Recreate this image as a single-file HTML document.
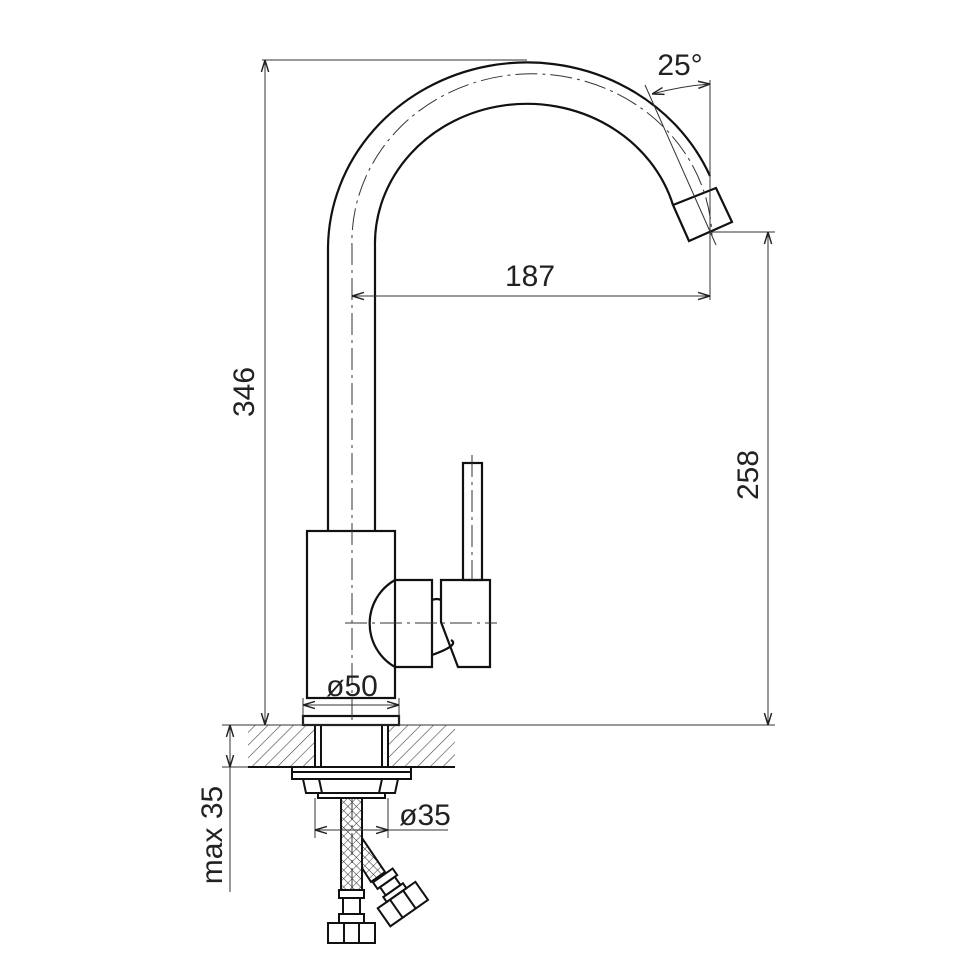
<!DOCTYPE html>
<html><head><meta charset="utf-8"><style>html,body{margin:0;padding:0;background:#fff}svg{display:block}text{font-family:"Liberation Sans",sans-serif;font-size:30px;fill:#222}</style></head>
<body>
<svg width="980" height="980" viewBox="0 0 980 980" xmlns="http://www.w3.org/2000/svg">
<defs>
<pattern id="h" width="9" height="9" patternUnits="userSpaceOnUse" patternTransform="rotate(45)"><line x1="0" y1="0" x2="0" y2="9" stroke="#444" stroke-width="1.2"/></pattern>
<pattern id="m" width="6" height="6" patternUnits="userSpaceOnUse" patternTransform="rotate(45)"><path d="M0 0H6M0 0V6" stroke="#333" stroke-width="1"/></pattern>
<marker id="a" viewBox="0 0 10 10" refX="10" refY="5" markerWidth="12" markerHeight="12" markerUnits="userSpaceOnUse" orient="auto-start-reverse"><path d="M0 2L10 5L0 8" fill="none" stroke="#222" stroke-width="1.2"/></marker>
</defs>
<g fill="none" stroke="#111" stroke-width="2.2">
<!-- spout -->
<path d="M328 530V247A199 187 0 0 1 710 176"/>
<path d="M375 530V247A152 140 0 0 1 673 205"/>
<path d="M673 205L716 188L732 222L689 241Z"/>
<!-- body -->
<rect x="307" y="531" width="88" height="167"/>
<path d="M395 580H432V667H395A50 50 0 0 1 395 580"/>
<path d="M432 600Q437 598 441 600"/>
<path d="M432 655Q460 645 451 640"/>
<path d="M441 580H490V667H458L441 622Z"/>
<rect x="463" y="463" width="19" height="117"/>
<!-- base -->
<rect x="303" y="716" width="96" height="9"/>
</g>
<!-- counter -->
<rect x="248" y="725" width="67" height="42" fill="url(#h)"/>
<rect x="388" y="725" width="67" height="42" fill="url(#h)"/>
<g fill="none" stroke="#111" stroke-width="2">
<path d="M248 767H455"/>
<path d="M315 725V767M388 725V767M321 725V767M382 725V767"/>
<rect x="292" y="767" width="119" height="12"/>
<path d="M292 772H411"/>
<path d="M303 779H398L395 793H306Z"/>
<path d="M319 779L322 793M382 779L379 793"/>
<rect x="318" y="793" width="67" height="5"/>
</g>
<rect x="341" y="798" width="21" height="92" fill="url(#m)" stroke="#111" stroke-width="2"/>
<path d="M362 838L385 872L371 882L362 868Z" fill="url(#m)" stroke="#111" stroke-width="2"/>
<g fill="none" stroke="#111" stroke-width="2">
<rect x="339" y="890" width="25" height="8"/>
<rect x="343" y="898" width="17" height="16"/>
<rect x="339" y="914" width="25" height="9"/>
<rect x="328" y="923" width="47" height="20"/>
<path d="M344 923V943M359 923V943"/>
<g transform="translate(400 900) rotate(-35)">
<rect x="-12" y="-30" width="24" height="8"/>
<rect x="-9" y="-22" width="18" height="10"/>
<rect x="-12" y="-12" width="24" height="6"/>
<rect x="-23" y="-6" width="46" height="22"/>
<path d="M-8 -6V16M8 -6V16"/>
</g>
</g>
<!-- center lines -->
<g fill="none" stroke="#333" stroke-width="1" stroke-dasharray="22 5 3 5">
<path d="M352 720V247A175 163 0 0 1 712 236"/>
<path d="M345 623H497"/>
<path d="M472 455V580"/>
<path d="M352 798V890"/>
</g>
<!-- dimensions -->
<g fill="none" stroke="#333" stroke-width="1">
<path d="M262 60H527"/>
<path d="M265 60V725" marker-start="url(#a)" marker-end="url(#a)"/>
<path d="M248 725H775"/>
<path d="M712 232H775"/>
<path d="M768 232V725" marker-start="url(#a)" marker-end="url(#a)"/>
<path d="M710 80V300"/>
<path d="M352 296H710" marker-start="url(#a)" marker-end="url(#a)"/>
<path d="M645 85L716 245"/>
<path d="M652 94Q682 86 710 84" marker-start="url(#a)" marker-end="url(#a)"/>
<path d="M303 698V725M399 698V725"/>
<path d="M303 705H399" marker-start="url(#a)" marker-end="url(#a)"/>
<path d="M352 705V720"/>
<path d="M315 798V838M388 798V838"/>
<path d="M315 830H448"/>
<path d="M315 830H388" marker-start="url(#a)" marker-end="url(#a)"/>
<path d="M222 725H248M222 767H248"/>
<path d="M230 725V767" marker-start="url(#a)" marker-end="url(#a)"/>
<path d="M230 767V892"/>
</g>
<text x="680" y="75" text-anchor="middle">25°</text>
<text x="530" y="286" text-anchor="middle">187</text>
<text x="352" y="696" text-anchor="middle">ø50</text>
<text x="425" y="825" text-anchor="middle">ø35</text>
<text transform="translate(254 392) rotate(-90)" text-anchor="middle">346</text>
<text transform="translate(768 475) rotate(-90)" text-anchor="middle" dy="-10">258</text>
<text transform="translate(222 835) rotate(-90)" text-anchor="middle">max 35</text>
</svg>
</body></html>
